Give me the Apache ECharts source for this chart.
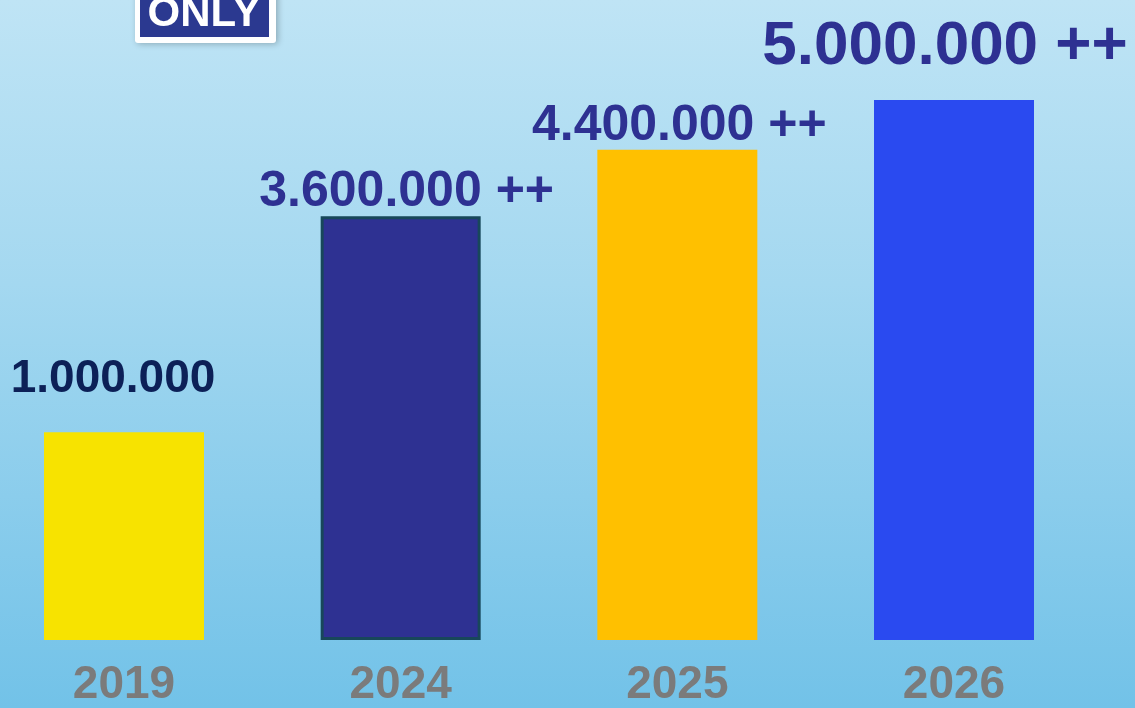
<!DOCTYPE html>
<html>
<head>
<meta charset="utf-8">
<script src="https://cdn.jsdelivr.net/npm/echarts@6/dist/echarts.min.js"></script>
<style>
html,body{margin:0;padding:0;overflow:hidden;}
#chart{width:1135px;height:708px;background:linear-gradient(to bottom,#bfe4f5 0%,#a4d8f0 40%,#72c2e8 100%);}
</style>
</head>
<body>
<div id="chart"></div>
<script>
// Data
const years = ['2019', '2024', '2025', '2026'];
const values = [1000000, 3600000, 4400000, 5000000];
const valueLabels = ['1.000.000', '3.600.000 ++', '4.400.000 ++', '5.000.000 ++'];

// Styles (per bar)
const barColors = ['#f7e300', '#2e3192', '#ffc000', '#2a4af0'];
const borderColors = [null, '#17475a', null, null];
const labelColors = ['#0c2057', '#2e3192', '#2e3192', '#2e3192'];
const labelSizes = [46, 50, 50, 62];
const labelDist = [30, -1, -1, 22];
const labelDx = [-11, 6, 2, -9];

const chart = echarts.init(document.getElementById('chart'), null, {renderer: 'canvas', width: 1135, height: 708});
const FONT = '"Liberation Sans", Arial, Helvetica, sans-serif';

const option = {
  backgroundColor: 'transparent',
  animation: false,
  grid: {left: 124, right: 181, top: 100, bottom: 56, containLabel: false},
  xAxis: {
    type: 'category',
    boundaryGap: false,
    data: years,
    axisLine: {show: false},
    axisTick: {show: false},
    axisLabel: {
      color: '#7b7b7b', fontSize: 46, fontWeight: 'bold', fontFamily: FONT, margin: 22
    }
  },
  yAxis: {
    type: 'value',
    min: -1500000,
    max: 5000000,
    startValue: -1500000,
    show: false,
    splitLine: {show: false}
  },
  series: [{
    type: 'bar',
    barWidth: 160,
    data: values.map((v, i) => ({
      value: v,
      itemStyle: {
        color: barColors[i],
        borderColor: borderColors[i] || barColors[i],
        borderWidth: borderColors[i] ? 3 : 0
      },
      label: {
        show: true,
        position: 'top',
        distance: labelDist[i],
        offset: [labelDx[i], 0],
        formatter: () => valueLabels[i],
        color: labelColors[i],
        fontSize: labelSizes[i],
        fontWeight: 'bold',
        fontFamily: FONT
      }
    }))
  }],
  graphic: [
    {type: 'rect', shape: {x: 135, y: -20, width: 141, height: 63, r: 3},
     style: {fill: '#ffffff', shadowBlur: 6, shadowColor: 'rgba(0,0,0,0.25)', shadowOffsetX: 2, shadowOffsetY: 1}},
    {type: 'rect', shape: {x: 140, y: -20, width: 129, height: 57},
     style: {fill: '#2b3990'}},
    {type: 'text', x: 204, y: 14,
     style: {text: 'ONLY', fill: '#ffffff', font: 'bold 42px ' + FONT, textAlign: 'center', textVerticalAlign: 'middle'}}
  ]
};
chart.setOption(option);
</script>
</body>
</html>
